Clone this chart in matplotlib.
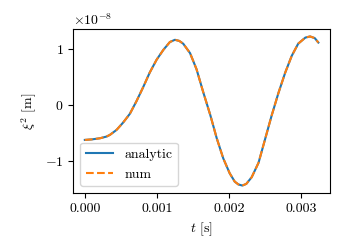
import numpy as np
import matplotlib
matplotlib.use("Agg")
import matplotlib.pyplot as plt

plt.rcParams["font.family"] = "serif"
plt.rcParams["font.serif"] = ["cmr10", "DejaVu Serif"]
plt.rcParams["mathtext.fontset"] = "cm"
plt.rcParams["axes.formatter.use_mathtext"] = True
plt.rcParams["font.size"] = 10

# values (t in ms, xi^2 in 1e-8 m)
t_ms = [0.00, 0.10, 0.21, 0.30, 0.347, 0.44, 0.53, 0.625, 0.718, 0.81,
        0.90, 0.995, 1.09, 1.18, 1.25, 1.31, 1.365, 1.46, 1.55, 1.64,
        1.74, 1.83, 1.92, 2.01, 2.08, 2.13, 2.185, 2.24, 2.315, 2.41,
        2.50, 2.59, 2.685, 2.78, 2.87, 2.96, 3.06, 3.125, 3.19, 3.24]
xi_analytic = [-0.63, -0.62, -0.60, -0.57, -0.54, -0.45, -0.32, -0.16, 0.07, 0.32,
               0.58, 0.81, 0.99, 1.13, 1.17, 1.15, 1.10, 0.93, 0.64, 0.24,
               -0.18, -0.60, -0.96, -1.23, -1.38, -1.43, -1.45, -1.42, -1.30, -1.04,
               -0.62, -0.20, 0.21, 0.58, 0.88, 1.10, 1.21, 1.23, 1.20, 1.12]
xi_num = list(xi_analytic)

t = np.array(t_ms) * 1e-3
ya = np.array(xi_analytic) * 1e-8
yn = np.array(xi_num) * 1e-8

fig, ax = plt.subplots(figsize=(3.5, 2.5), dpi=100)
fig.subplots_adjust(left=0.209, right=0.943, top=0.884, bottom=0.228)

ax.plot(t, ya, color="#1f77b4", lw=1.5, label="analytic")
ax.plot(t, yn, color="#ff7f0e", lw=1.5, ls="--", label="num")

ax.set_xticks([0.0, 0.001, 0.002, 0.003])
ax.set_xticklabels(["0.000", "0.001", "0.002", "0.003"])
ax.set_xlabel(r"$t$ [s]")
ax.set_ylabel(r"$\xi^2$ [m]")
ax.legend(loc="lower left")

plt.savefig("out.png", dpi=100)
